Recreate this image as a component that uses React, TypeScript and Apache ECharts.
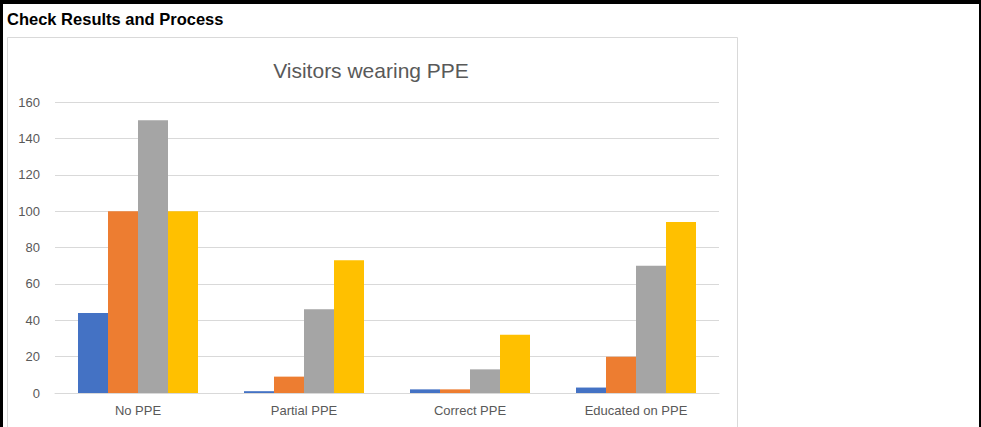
import React, { useEffect, useRef } from "react";
import * as echarts from "echarts";

const categories = ["No PPE", "Partial PPE", "Correct PPE", "Educated on PPE"];
const series1 = [44, 1, 2, 3];
const series2 = [100, 9, 2, 20];
const series3 = [150, 46, 13, 70];
const series4 = [100, 73, 32, 94];
const seriesNames = ["Series1", "Series2", "Series3", "Series4"];
const colors = ["#4472C4", "#ED7D31", "#A5A5A5", "#FFC000"];
const heading = "Check Results and Process";
const chartTitle = "Visitors wearing PPE";

export default function App() {
  const ref = useRef<HTMLDivElement>(null);
  useEffect(() => {
    if (!ref.current) return;
    const chart = echarts.init(ref.current, undefined, { renderer: "svg" });
    const font = "'Liberation Sans', Arial, sans-serif";
    const data = [series1, series2, series3, series4];
    chart.setOption({
      animation: false,
      backgroundColor: "#ffffff",
      textStyle: { fontFamily: font },
      graphic: [
        { type: "rect", z: 0, shape: { x: 7.5, y: 37.5, width: 730, height: 400 }, style: { fill: "none", stroke: "#d9d9d9", lineWidth: 1 } },
        { type: "rect", z: 100, shape: { x: 0, y: 0, width: 981, height: 4 }, style: { fill: "#000000" } },
        { type: "rect", z: 100, shape: { x: 0, y: 0, width: 3, height: 427 }, style: { fill: "#000000" } },
        { type: "rect", z: 100, shape: { x: 979, y: 0, width: 2, height: 427 }, style: { fill: "#000000" } },
        { type: "text", z: 100, x: 7, y: 27, style: { text: heading, fill: "#000000", font: `bold 16.5px ${font}`, textVerticalAlign: "bottom" } },
        { type: "text", z: 100, x: 371, y: 70, style: { text: chartTitle, fill: "#595959", font: `21px ${font}`, textAlign: "center", textVerticalAlign: "middle" } },
      ],
      grid: { left: 55, right: 262, top: 102, bottom: 34, containLabel: false },
      xAxis: {
        type: "category",
        data: categories,
        axisLine: { lineStyle: { color: "#d9d9d9", width: 1 } },
        axisTick: { show: false },
        axisLabel: { color: "#595959", fontSize: 13, margin: 11, fontFamily: font },
      },
      yAxis: {
        type: "value",
        min: 0,
        max: 160,
        interval: 20,
        axisLine: { show: false },
        axisTick: { show: false },
        splitLine: { lineStyle: { color: "#d9d9d9", width: 1 } },
        axisLabel: { color: "#595959", fontSize: 13, margin: 15, fontFamily: font },
      },
      series: data.map((d, i) => ({
        type: "bar",
        name: seriesNames[i],
        data: d,
        barWidth: 30,
        barGap: "0%",
        itemStyle: { color: colors[i] },
      })),
    });
    return () => chart.dispose();
  }, []);
  return (
    <div
      ref={ref}
      style={{ position: "fixed", left: 0, top: 0, width: 981, height: 427 }}
    />
  );
}
